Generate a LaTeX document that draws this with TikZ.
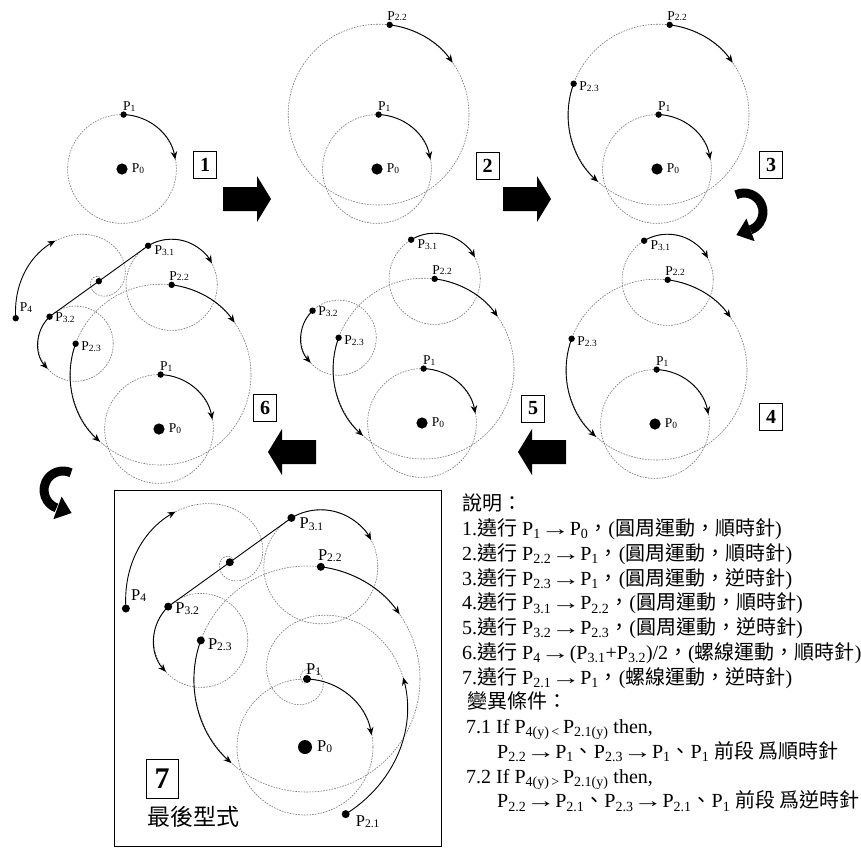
\documentclass[tikz,border=0pt]{standalone}
\usepackage{fontspec}
\setmainfont{Liberation Serif}
\newfontfamily\cjk{Noto Sans CJK TC}
\usetikzlibrary{arrows.meta,calc}
\newcommand\Ps[1]{P\raisebox{-0.15ex}{\scalebox{0.7}{#1}}}
\newcommand\Pt[1]{P\textsubscript{#1}}
\newcommand\ra{\scalebox{1.45}[1]{→}}
\newcommand\drawpanel[2]{%
  \coordinate (Q0) at (0,0);
  \coordinate (Q1) at (2,68);
  \coordinate (Q22) at (15.8,180.2);
  \coordinate (Q23) at (-104.2,106.6);
  \coordinate (Q31) at (-13.6,229.1);
  \coordinate (Q32) at (-136.8,140.4);
  \coordinate (QM) at (-75.2,184.75);
  \coordinate (Q4) at (-179.1,138.5);
  \coordinate (Q21) at (40.7,-67.1);
  \draw[dc] (Q0) circle[radius=68];
  \ifnum#1>1 \draw[dc] (Q1) circle[radius=113]; \fi
  \ifnum#1>3 \draw[dc] (Q22) circle[radius=57]; \fi
  \ifnum#1>4 \draw[dc] (Q23) circle[radius=47]; \fi
  \ifnum#1>5
    \draw[dc] plot[domain=67:520, samples=160] ({-75.2+113.7*exp(-0.00638*\x)*cos(204-\x)},{184.75+113.7*exp(-0.00638*\x)*sin(204-\x)});
    \draw[black, line width=0.9pt] (Q31) -- (Q32);
    \draw[mvarc] plot[domain=0:67, samples=30] ({-75.2+113.7*exp(-0.00638*\x)*cos(204-\x)},{184.75+113.7*exp(-0.00638*\x)*sin(204-\x)});
  \fi
  \ifnum#1>6
    \draw[dc] plot[domain=75:680, samples=200] ({2+140.5*exp(-0.00507*\x)*cos(-74+\x)},{68+140.5*exp(-0.00507*\x)*sin(-74+\x)});
    \draw[mvarc] plot[domain=0:75, samples=30] ({2+140.5*exp(-0.00507*\x)*cos(-74+\x)},{68+140.5*exp(-0.00507*\x)*sin(-74+\x)});
  \fi
  \draw[mvarc] (Q1) arc[start angle=88, end angle=10, radius=68];
  \ifnum#1>1 \draw[mvarc] (Q22) arc[start angle=83, end angle=35, radius=113]; \fi
  \ifnum#1>2 \draw[mvarc] (Q23) arc[start angle=160, end angle=228, radius=113]; \fi
  \ifnum#1>3 \draw[mvarc] (Q31) arc[start angle=121, end angle=28, radius=57]; \fi
  \ifnum#1>4 \draw[mvarc] (Q32) arc[start angle=134, end angle=222, radius=47]; \fi
  % dots and labels
  \fill (Q0) circle[radius=7];
  \node[lab, font=\fontsize{#2}{#2}\selectfont] (l0) at ($(Q0)+(12,-4.5)$) {\Ps{0}};
  \fill (Q1) circle[radius=4];
  \node[lab, font=\fontsize{#2}{#2}\selectfont] (l1) at ($(Q1)+(-1,5)$) {\Ps{1}};
  \ifnum#1>1
    \fill (Q22) circle[radius=4];
    \node[lab, font=\fontsize{#2}{#2}\selectfont] (l22) at ($(Q22)+(-3,6)$) {\Ps{2.2}};
  \fi
  \ifnum#1>2
    \fill (Q23) circle[radius=4];
    \node[lab, font=\fontsize{#2}{#2}\selectfont] (l23) at ($(Q23)+(7,-9)$) {\Ps{2.3}};
  \fi
  \ifnum#1>3
    \fill (Q31) circle[radius=4];
    \node[lab, font=\fontsize{#2}{#2}\selectfont] (l31) at ($(Q31)+(8,-11)$) {\Ps{3.1}};
  \fi
  \ifnum#1>4
    \fill (Q32) circle[radius=4];
    \node[lab, font=\fontsize{#2}{#2}\selectfont] (l32) at ($(Q32)+(7,-6.5)$) {\Ps{3.2}};
  \fi
  \ifnum#1>5
    \fill (QM) circle[radius=4];
    \fill (Q4) circle[radius=4];
    \node[lab, font=\fontsize{#2}{#2}\selectfont] (l4) at ($(Q4)+(5,8)$) {\Ps{4}};
  \fi
  \ifnum#1>6
    \fill (Q21) circle[radius=4];
    \node[lab, font=\fontsize{#2}{#2}\selectfont] (l21) at ($(Q21)+(10,-12)$) {\Ps{2.1}};
  \fi
}
\begin{document}
\begin{tikzpicture}[x=1pt,y=1pt,
  dc/.style={draw=black!55, line width=0.6pt, dash pattern=on 1.6pt off 1.2pt},
  mvarc/.style={draw=black, line width=0.9pt, -{Stealth[length=8pt,width=6.5pt]}},
  lab/.style={inner sep=0pt, anchor=base west},
  numbox/.style={draw, line width=0.9pt, minimum width=23pt, minimum height=27pt, inner sep=0pt, font=\fontsize{20}{20}\selectfont\bfseries},
  blk/.style={fill=black}]
\useasboundingbox (0,0) rectangle (861,-847);
\fill[white] (0,0) rectangle (861,-847);
% panels
\begin{scope}[shift={(122,-169)}, scale=0.8] \drawpanel{1}{13.5} \end{scope}
\begin{scope}[shift={(377,-169)}, scale=0.8] \drawpanel{2}{13.5} \end{scope}
\begin{scope}[shift={(657,-169)}, scale=0.8] \drawpanel{3}{13.5} \end{scope}
\begin{scope}[shift={(655,-424)}, scale=0.8] \drawpanel{4}{13.5} \end{scope}
\begin{scope}[shift={(422,-423)}, scale=0.8] \drawpanel{5}{13.5} \end{scope}
\begin{scope}[shift={(159,-429)}, scale=0.8] \drawpanel{6}{13.5} \end{scope}
\begin{scope}[shift={(305,-747)}, scale=1] \drawpanel{7}{16.5} \end{scope}
% number boxes
\node[numbox] (b1) at (205,-165) {1};
\node[numbox] (b2) at (487.5,-165.5) {2};
\node[numbox] (b3) at (771,-165) {3};
\node[numbox] (b4) at (771,-416.5) {4};
\node[numbox] (b5) at (533,-408.5) {5};
\node[numbox] (b6) at (265,-407.5) {6};
\node[draw, line width=0.6pt, minimum width=32pt, minimum height=39pt, inner sep=0pt, font=\fontsize{30}{30}\selectfont\bfseries] (b7) at (162,-778.5) {7};
% block arrows
\fill[blk] (223,-187) -- (257,-187) -- (257,-176) -- (271,-199) -- (257,-222) -- (257,-211) -- (223,-211) -- cycle;
\fill[blk] (503,-187) -- (537,-187) -- (537,-176) -- (551,-199) -- (537,-222) -- (537,-211) -- (503,-211) -- cycle;
\fill[blk] (566,-440) -- (532,-440) -- (532,-429) -- (518,-452) -- (532,-475) -- (532,-464) -- (566,-464) -- cycle;
\fill[blk] (316,-440) -- (282,-440) -- (282,-429) -- (268,-452) -- (282,-475) -- (282,-464) -- (316,-464) -- cycle;
% curved arrows
\draw[line width=9pt] ([shift={(115:19)}]744,-212) arc[start angle=115, end angle=-70, radius=19];
\fill[blk] (754.6,-241.2) -- (746.4,-218.6) -- (736.4,-235.0) -- cycle;
\draw[line width=9pt] ([shift={(65:19)}]63,-490) arc[start angle=65, end angle=250, radius=19];
\fill[blk] (53.4,-519.2) -- (61.6,-496.6) -- (71.6,-513.0) -- cycle;
% frame of panel 7
\draw[line width=0.8pt] (114,-490) rectangle (441,-846);
\node[font=\fontsize{23}{23}\selectfont\cjk, inner sep=0pt] (final) at (193,-817) {最後型式};
% description
\node[anchor=north west, align=left, inner sep=0pt, font=\fontsize{20}{24.75}\selectfont] (desc) at (462,-494) {%
{\cjk 說明：}\\
1.{\cjk 遶行} \Pt{1}\ra\Pt{0}{\cjk ，}({\cjk 圓周運動，順時針})\\
2.{\cjk 遶行} \Pt{2.2}\ra\Pt{1}{\cjk ，}({\cjk 圓周運動，順時針})\\
3.{\cjk 遶行} \Pt{2.3}\ra\Pt{1}{\cjk ，}({\cjk 圓周運動，逆時針})\\
4.{\cjk 遶行} \Pt{3.1}\ra\Pt{2.2}{\cjk ，}({\cjk 圓周運動，順時針})\\
5.{\cjk 遶行} \Pt{3.2}\ra\Pt{2.3}{\cjk ，}({\cjk 圓周運動，逆時針})\\
6.{\cjk 遶行} \Pt{4}\ra(\Pt{3.1}+\Pt{3.2})/2{\cjk ，}({\cjk 螺線運動，順時針})\\
7.{\cjk 遶行} \Pt{2.1}\ra\Pt{1}{\cjk ，}({\cjk 螺線運動，逆時針})\\
\hspace*{5pt}{\cjk 變異條件：}\\
\hspace*{4pt}7.1 If P\textsubscript{4(y)\,<}\,P\textsubscript{2.1(y)} then,\\
\hspace*{35pt}\Pt{2.2}\ra\Pt{1}{\cjk 、}\Pt{2.3}\ra\Pt{1}{\cjk 、}\Pt{1} {\cjk 前段 爲順時針}\\
\hspace*{4pt}7.2 If P\textsubscript{4(y)\,>}\,P\textsubscript{2.1(y)} then,\\
\hspace*{35pt}\Pt{2.2}\ra\Pt{2.1}{\cjk 、}\Pt{2.3}\ra\Pt{2.1}{\cjk 、}\Pt{1} {\cjk 前段 爲逆時針}
};
\end{tikzpicture}
\end{document}
